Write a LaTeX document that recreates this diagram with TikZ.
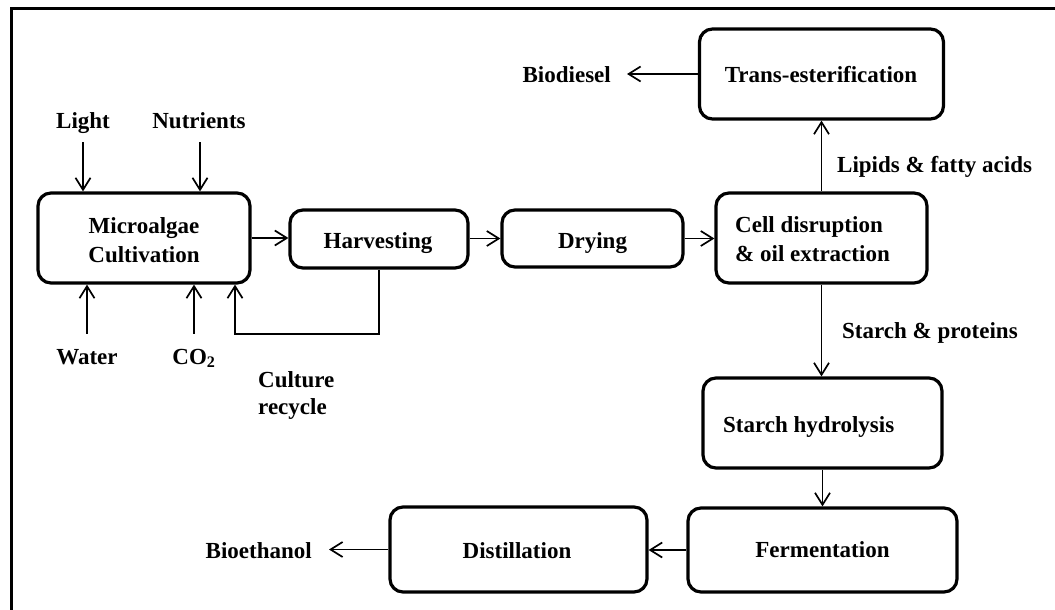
\documentclass[tikz,border=0pt]{standalone}
\usepackage{fontspec}
\setmainfont{Liberation Serif}
\usetikzlibrary{arrows.meta}
\begin{document}
\begin{tikzpicture}[x=1pt,y=-1pt,
  box/.style={draw, line width=3.2pt, rounded corners=13pt, inner sep=0pt},
  lbl/.style={inner sep=0pt, text depth=0pt, font=\fontsize{23}{28}\selectfont\bfseries},
  arr/.style={line width=1.7pt, -{Straight Barb[length=12pt,width=15pt,line width=1.7pt]}},
  frame/.style={line width=3pt}]
\useasboundingbox (0,0) rectangle (1055,610);
\draw[frame] (1055,8.5) -- (11.5,8.5) -- (11.5,610);

% boxes
\node[box, minimum width=212pt, minimum height=90pt] (micro) at (144,238) {};
\node[box, minimum width=178pt, minimum height=58pt] (harv) at (379,239) {};
\node[box, minimum width=181pt, minimum height=57pt] (dry) at (592.5,238.5) {};
\node[box, minimum width=211pt, minimum height=90pt] (cell) at (821.5,238) {};
\node[box, minimum width=244pt, minimum height=90pt] (trans) at (821.5,74) {};
\node[box, minimum width=239pt, minimum height=90pt] (starch) at (822.5,423) {};
\node[box, minimum width=269pt, minimum height=84pt] (ferm) at (822.5,550) {};
\node[box, minimum width=257pt, minimum height=85pt] (dist) at (518.5,549.5) {};

% texts in boxes
\node[lbl, anchor=base] (t1) at (144,233) {Microalgae};
\node[lbl, anchor=base] (t2) at (144,262) {Cultivation};
\node[lbl, anchor=base] (t3) at (378,248) {Harvesting};
\node[lbl, anchor=base] (t4) at (592.5,248) {Drying};
\node[lbl, anchor=base west] (t5) at (735,232) {Cell disruption};
\node[lbl, anchor=base west] (t6) at (735,261) {\& oil extraction};
\node[lbl, anchor=base] (t7) at (821,83) {Trans-esterification};
\node[lbl, anchor=base west] (t8) at (723,432) {Starch hydrolysis};
\node[lbl, anchor=base] (t9) at (822.5,557) {Fermentation};
\node[lbl, anchor=base] (t10) at (517,558) {Distillation};

% outer labels
\node[lbl, anchor=base] (light) at (83,128) {Light};
\node[lbl, anchor=base] (nutr) at (199,128) {Nutrients};
\node[lbl, anchor=base] (water) at (87,364) {Water};
\node[lbl, anchor=base] (co2) at (194,364) {CO\textsubscript{2}};
\node[lbl, anchor=base west] (cul1) at (258,387) {Culture};
\node[lbl, anchor=base west] (cul2) at (258,414) {recycle};
\node[lbl, anchor=base east] (bd) at (611,83) {Biodiesel};
\node[lbl, anchor=base west] (lip) at (837,172) {Lipids \& fatty acids};
\node[lbl, anchor=base west] (sp) at (842,338) {Starch \& proteins};
\node[lbl, anchor=base east] (be) at (312,558) {Bioethanol};

% inputs
\draw[arr, shorten <=14pt] (light.south) -- (light.south |- micro.north);
\draw[arr, shorten <=14pt] (nutr.south -| 200,0) -- (200,0 |- micro.north);
\draw[arr, shorten <=15pt] (water.north) -- (water.north |- micro.south);
\draw[arr, shorten <=15pt] (co2.north -| 194,0) -- (194,0 |- micro.south);

% main chain
\draw[arr] (micro.east) -- (micro.east -| harv.west);
\draw[arr] (harv.east |- dry.west) -- (dry.west);
\draw[arr] (dry.east) -- (dry.east -| cell.west);
\draw[arr] (cell.north) -- (trans.south);
\draw[arr, shorten >=16pt] (trans.west) -- (trans.west -| bd.east);
\draw[arr] (cell.south) -- (cell.south |- starch.north);
\draw[arr] (starch.south) -- (ferm.north);
\draw[arr] (ferm.west) -- (ferm.west -| dist.east);
\draw[arr, shorten >=17pt] (dist.west) -- (dist.west -| be.east);

% culture recycle
\coordinate (rc) at (235,334);
\draw[arr] (harv.south) |- (rc) -- (rc |- micro.south);
\end{tikzpicture}
\end{document}
